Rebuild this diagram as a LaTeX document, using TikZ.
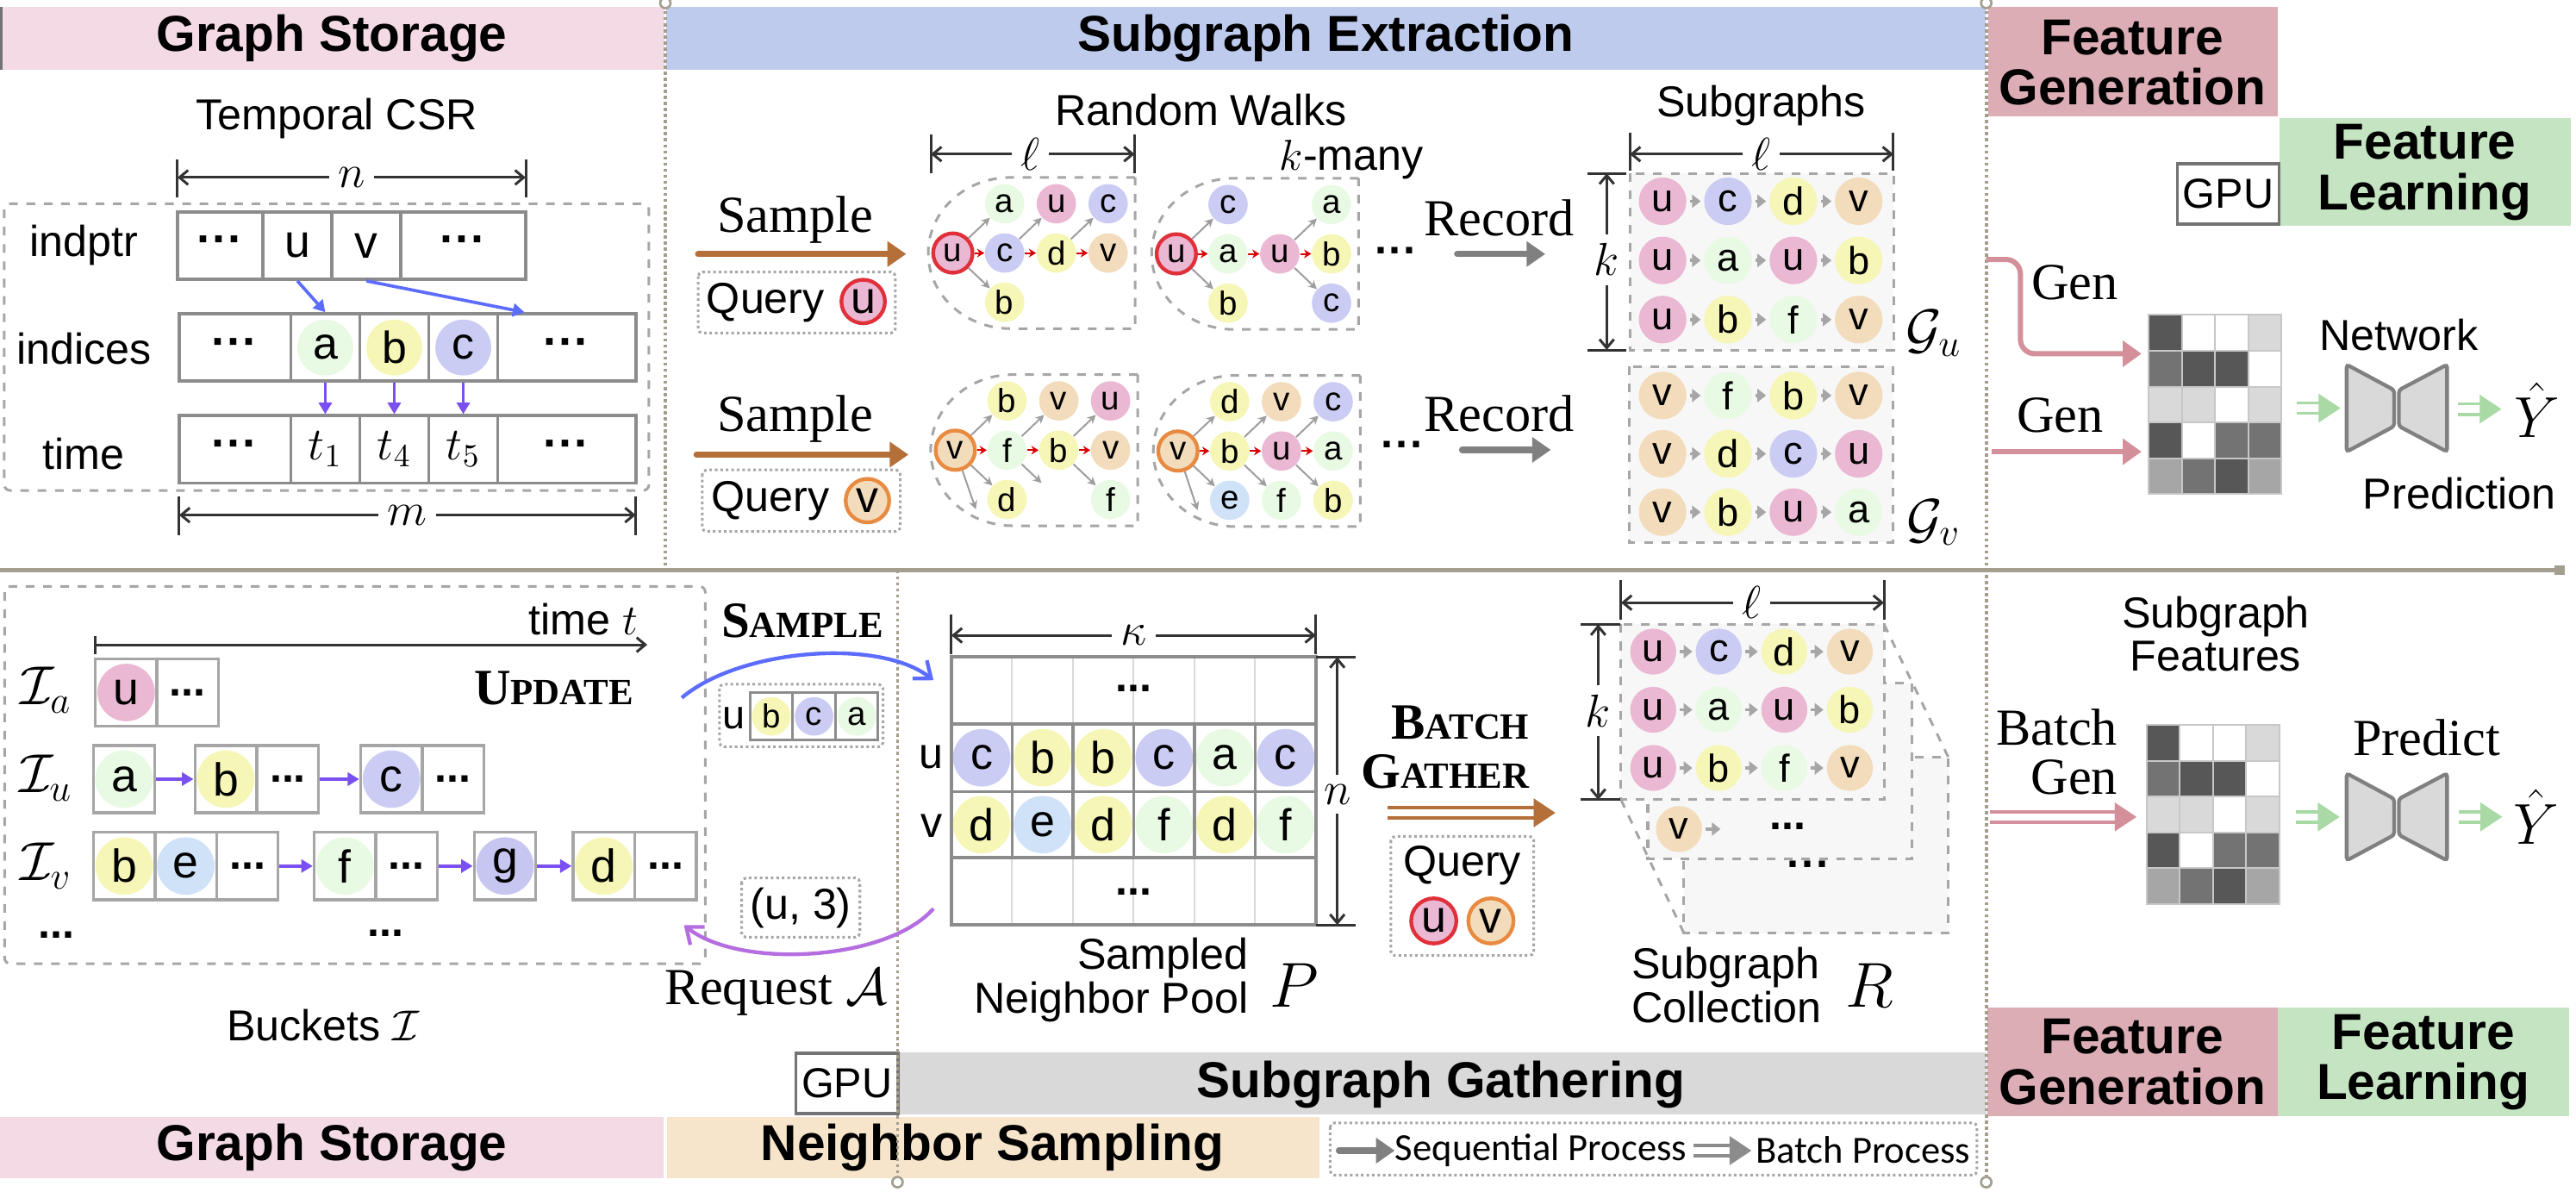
\RequirePackage{fix-cm}
\documentclass[tikz,border=0pt]{standalone}
\usepackage[no-math]{fontspec}
\setmainfont{Liberation Sans}
\newfontfamily\tnr{Liberation Serif}
\newfontfamily\legfont{Carlito}
\usetikzlibrary{arrows.meta,positioning,calc}

\definecolor{bandpink}{HTML}{F3DAE4}
\definecolor{bandblue}{HTML}{BFCBED}
\definecolor{bandrose}{HTML}{DCADB5}
\definecolor{bandgreen}{HTML}{C5E5C2}
\definecolor{bandtan}{HTML}{F6E5CB}
\definecolor{bandgray}{HTML}{D9D9D9}
\definecolor{colu}{HTML}{EBB8D3}
\definecolor{colc}{HTML}{CBCCF3}
\definecolor{colg}{HTML}{C6C6F0}
\definecolor{cola}{HTML}{E8FAE3}
\definecolor{colf}{HTML}{E8FAE3}
\definecolor{colb}{HTML}{F6F6B6}
\definecolor{cold}{HTML}{F6F6B6}
\definecolor{colv}{HTML}{F2DCBC}
\definecolor{cole}{HTML}{CFE2F8}
\definecolor{qred}{HTML}{E0303A}
\definecolor{qorange}{HTML}{E88A40}
\definecolor{brownarr}{HTML}{B5703A}
\definecolor{pinkarr}{HTML}{D4909A}
\definecolor{greenarr}{HTML}{A9D9A5}
\definecolor{bluearr}{HTML}{5B6CFF}
\definecolor{purparr}{HTML}{7B50F0}
\definecolor{reqarr}{HTML}{B46EE0}
\definecolor{sepline}{HTML}{A39E8E}
\definecolor{cellgray}{HTML}{8C8C8C}
\definecolor{boxgray}{HTML}{A6A6A6}
\definecolor{hmD}{HTML}{575757}
\definecolor{hmM}{HTML}{737373}
\definecolor{hmG}{HTML}{A6A6A6}
\definecolor{hmL}{HTML}{D9D9D9}
\definecolor{hmW}{HTML}{FFFFFF}

\newcommand{\hdrfont}{\fontsize{17.5}{17.5}\selectfont\bfseries}
\newcommand{\lblfont}{\fontsize{15}{15}\selectfont}
\newcommand{\serfont}{\tnr\fontsize{18}{17}\selectfont}
\newcommand{\bigdots}{\textbf{···}}
\newcommand{\smdots}{\textbf{...}}
\newcommand{\fakesc}[2]{{\tnr\bfseries\fontsize{17.6}{17}\selectfont #1\fontsize{12.8}{17}\selectfont #2}}

\begin{document}
\begin{tikzpicture}[x=0.02cm, y=-0.02cm,
  hdr/.style={font=\hdrfont, align=center, inner sep=0pt},
  lbl/.style={font=\lblfont, inner sep=1pt},
  ser/.style={font=\serfont, inner sep=1pt},
  mth/.style={font=\fontsize{16}{18}\selectfont, inner sep=3pt},
  gpu/.style={draw=black!55, line width=1.1pt, fill=white, font=\fontsize{14.5}{16}\selectfont, minimum width=1.24cm, minimum height=0.74cm, inner sep=0pt},
  cell/.style={draw=cellgray, line width=1.1pt, inner sep=0pt, minimum height=0.82cm, minimum width=#1, font=\fontsize{16}{18}\selectfont},
  bcell/.style={draw=boxgray, line width=1pt, inner sep=0pt, minimum height=0.82cm, minimum width=0.75cm, font=\fontsize{15}{17}\selectfont},
  bv/.style={circle, fill=col#1, inner sep=0pt, minimum size=0.68cm, font=\fontsize{15.5}{17}\selectfont},
  wv/.style={circle, fill=col#1, inner sep=0pt, minimum size=0.48cm, font=\fontsize{11.5}{13}\selectfont},
  sv/.style={circle, fill=col#1, inner sep=0pt, minimum size=0.58cm, font=\fontsize{13.5}{15}\selectfont},
  qu/.style={draw=qred, line width=1.3pt},
  qv/.style={draw=qorange, line width=1.3pt},
  dimarr/.style={-{Straight Barb[length=3pt,width=5pt]}, line width=0.9pt, draw=black!80},
  dimtick/.style={line width=0.9pt, draw=black!80},
  walkbox/.style={dashed, draw=boxgray, line width=0.9pt},
  sgbox/.style={dashed, draw=boxgray, line width=0.9pt, fill=black!3},
  qbox/.style={densely dotted, draw=boxgray, line width=0.9pt, rounded corners=1.5pt},
  warr/.style={-{Stealth[length=3pt,width=3pt]}, draw=black!38, line width=0.6pt},
  rarr/.style={-{Stealth[length=2.5pt,width=3pt]}, draw=red!85!black, line width=0.6pt},
  sarr/.style={-{Triangle[length=3pt,width=4.5pt]}, draw=boxgray, line width=1.1pt, shorten <=1pt, shorten >=1pt},
  brarr/.style={draw=brownarr, line width=2.2pt, line cap=round, -{Triangle[length=6.5pt,width=8.5pt]}},
  grarr/.style={draw=black!50, line width=2.2pt, line cap=round, -{Triangle[length=6.5pt,width=8.5pt]}},
  pkarr/.style={draw=pinkarr, line width=1.8pt, rounded corners=5pt, -{Triangle[length=6.5pt,width=8.8pt]}},
  blarr/.style={draw=bluearr, line width=1.1pt, -{Triangle[length=4pt,width=4.5pt]}},
  pparr/.style={draw=purparr, line width=1.1pt, -{Triangle[length=4pt,width=4.5pt]}},
  dbl/.style={draw=none,
    postaction={draw=#1, line width=1.1pt, shorten >=5pt, transform canvas={yshift=1.8pt}},
    postaction={draw=#1, line width=1.1pt, shorten >=5pt, transform canvas={yshift=-1.8pt}},
    postaction={draw=white, line width=0.05pt, -{Triangle[length=7.5pt,width=10pt,color=#1]}}},
  bowtie/.style={fill=bandgray, draw=black!50, line width=1.3pt, rounded corners=1pt},
  sep/.style={draw=sepline, densely dotted, line width=1.1pt}
]
\useasboundingbox (0,0) rectangle (1568,725);

% bands
\fill[bandpink] (0,4.4) rectangle (404.6,42.6);
\draw[black!55, line width=1.2pt] (0.6,4.4) -- (0.6,42.6);
\node[hdr] (hGS) at (202,23.5) {Graph Storage};
\fill[bandblue] (405.5,4.4) rectangle (1208.8,42.6);
\node[hdr] (hSE) at (807,23.5) {Subgraph Extraction};
\fill[bandrose] (1210,4.4) rectangle (1386.5,70.7);
\node[hdr] (hFG) at (1298,38) {Feature\\Generation};
\fill[bandgreen] (1387.6,71.8) rectangle (1565,137.3);
\node[hdr] (hFL) at (1476,105) {Feature\\Learning};
\node[gpu] (gpuA) at (1356.3,118) {GPU};

\fill[bandpink] (0,679.7) rectangle (404,717);
\node[hdr] (hGS2) at (202,698.5) {Graph Storage};
\fill[bandtan] (405.8,679.7) rectangle (803,717);
\node[hdr] (hNS) at (604,698.5) {Neighbor Sampling};
\fill[bandgray] (546.5,640.7) rectangle (1209,678.5);
\node[hdr] (hSG) at (877,660) {Subgraph Gathering};
\node[gpu] (gpuB) at (515.5,659.4) {GPU};
\fill[bandrose] (1209.7,613.4) rectangle (1386.5,679.2);
\node[hdr] (hFG2) at (1298,646.5) {Feature\\Generation};
\fill[bandgreen] (1386.5,613.4) rectangle (1563.8,679.2);
\node[hdr] (hFL2) at (1475,646.5) {Feature\\Learning};

% separators
\draw[sepline, line width=1.3pt] (0,347) -- (1557,347);
\fill[sepline] (1555,344) rectangle (1561,350);
\draw[sep] (405,3) -- (405,347);
\draw[sep] (546.3,347) -- (546.3,717);
\draw[sep] (1209,3) -- (1209,717);
\foreach \px/\py in {405/1.8, 1209/1.8, 546.3/719.5, 1209/719.5}
  \draw[sepline, line width=0.8pt, fill=white] (\px,\py) circle (1.8pt);

% temporal CSR
\node[lbl] (tcsr) at (205,72) {Temporal CSR};
\draw[dashed, draw=boxgray, line width=0.9pt, rounded corners=2pt] (2.6,124) rectangle (395,298.5);
\node[lbl] (lip) at (51,149) {indptr};
\node[lbl] (lix) at (51,212) {indices};
\node[lbl] (ltm) at (51,276) {time};
\foreach \n/\cx/\w/\t in {1/134/1.04cm/\bigdots, 2/181/0.84cm/u, 3/223/0.84cm/v, 4/282/1.52cm/\bigdots}
  \node[cell=\w] (ip\n) at (\cx,149.5) {\t};
\foreach \n/\cx/\w/\t in {1/143/1.36cm/\bigdots, 2/198/0.84cm/{}, 3/240/0.84cm/{}, 4/282/0.84cm/{}, 5/345/1.68cm/\bigdots}
  \node[cell=\w] (ix\n) at (\cx,211.5) {\t};
\foreach \n/\lt in {2/a, 3/b, 4/c}
  \node[bv=\lt] (ixc\n) at (ix\n) {\lt};
\foreach \n/\cx/\w/\t in {1/143/1.36cm/\bigdots, 2/198/0.84cm/$t_1$, 3/240/0.84cm/$t_4$, 4/282/0.84cm/$t_5$, 5/345/1.68cm/\bigdots}
  \node[cell=\w] (tm\n) at (\cx,273.5) {\t};
\draw[blarr] (ip2.south) -- (ix2.north);
\draw[blarr] (ip3.south) -- ($(ix5.north west)!0.2!(ix5.north east)$);
\foreach \n in {2,3,4}
  \draw[pparr] (ix\n.south) -- (tm\n.north);

\node[mth] (dimN) at (214,108) {$n$};
\coordinate (dimN0) at (108,108); \coordinate (dimN1) at (320,108);
\draw[dimarr] (dimN) -- (dimN0); \draw[dimarr] (dimN) -- (dimN1);
\draw[dimtick] (108,97) -- (108,120) (320,97) -- (320,120);
\node[mth] (dimM) at (248,313.5) {$m$};
\coordinate (dimM0) at (109,313.5); \coordinate (dimM1) at (387,313.5);
\draw[dimarr] (dimM) -- (dimM0); \draw[dimarr] (dimM) -- (dimM1);
\draw[dimtick] (109,302) -- (109,325.6) (387,302) -- (387,325.6);

% random walks
\node[ser] (smpU) at (484,134) {Sample};
\coordinate (smpU0) at (425,154.6); \coordinate (smpU1) at (551.6,154.6);
\draw[brarr] (smpU0) -- (smpU1);
\draw[qbox] (425,165.6) rectangle (545,202.7);
\node[lbl] (qryU) at (466,184) {Query};
\node[bv=u, qu, minimum size=0.53cm] (qU) at (525.4,183.5) {u};
\node[ser] (smpV) at (484,255) {Sample};
\coordinate (smpV0) at (424,276.7); \coordinate (smpV1) at (553,276.7);
\draw[brarr] (smpV0) -- (smpV1);
\draw[qbox] (427.5,286) rectangle (548,323.5);
\node[lbl] (qryV) at (469,305) {Query};
\node[bv=v, qv, minimum size=0.53cm] (qV) at (528,304.7) {v};

\node[lbl] (rwT) at (731,67) {Random Walks};
\node[lbl] (kmany) at (822.7,97) {$k$-many};
\node[mth] (dimL1) at (627,93.8) {$\ell$};
\coordinate (dimL10) at (566.6,93.8); \coordinate (dimL11) at (690.7,93.8);
\draw[dimarr] (dimL1) -- (dimL10); \draw[dimarr] (dimL1) -- (dimL11);
\draw[dimtick] (566.6,81.7) -- (566.6,105.5) (690.7,81.7) -- (690.7,105.5);

\foreach \ox/\oy in {565/108, 701/108.5, 566.5/228, 702/228.5}
  \draw[walkbox] (\ox+126,\oy) -- (\ox+50,\oy) arc[start angle=-90, end angle=-270, x radius=50, y radius=46] -- (\ox+126,\oy+92) -- cycle;

\foreach \row/\col/\lt in {2/2/c, 2/3/d, 2/4/v, 1/2/a, 1/3/u, 1/4/c, 3/2/b}
  \node[wv=\lt] (w1-\row\col) at (565+31.5*\col-16.5, 108+30*\row-14) {\lt};
\node[wv=u, qu] (w1-21) at (580,154) {u};
\foreach \p/\q in {21/12, 21/32, 22/13, 23/14} \draw[warr] (w1-\p) -- (w1-\q);
\foreach \p/\q in {21/22, 22/23, 23/24} \draw[rarr] (w1-\p) -- (w1-\q);

\foreach \row/\col/\lt in {2/2/a, 2/3/u, 2/4/b, 1/2/c, 3/2/b, 1/4/a, 3/4/c}
  \node[wv=\lt] (w2-\row\col) at (701+31.5*\col-16.5, 108.5+30*\row-14) {\lt};
\node[wv=u, qu] (w2-21) at (716,154.5) {u};
\foreach \p/\q in {21/12, 21/32, 23/14, 23/34} \draw[warr] (w2-\p) -- (w2-\q);
\foreach \p/\q in {21/22, 22/23, 23/24} \draw[rarr] (w2-\p) -- (w2-\q);

\foreach \row/\col/\lt in {2/2/f, 2/3/b, 2/4/v, 1/2/b, 1/3/v, 1/4/u, 3/2/d, 3/4/f}
  \node[wv=\lt] (w3-\row\col) at (566.5+31.5*\col-16.5, 228+30*\row-14) {\lt};
\node[wv=v, qv] (w3-21) at (581.5,274) {v};
\coordinate (w3-x1) at (594,310); \coordinate (w3-x2) at (634,294);
\foreach \p/\q in {21/12, 21/32, 22/13, 23/14, 23/34} \draw[warr] (w3-\p) -- (w3-\q);
\draw[warr] (w3-21) -- (w3-x1); \draw[warr] (w3-22) -- (w3-x2);
\foreach \p/\q in {21/22, 22/23, 23/24} \draw[rarr] (w3-\p) -- (w3-\q);

\foreach \row/\col/\lt in {2/2/b, 2/3/u, 2/4/a, 1/2/d, 1/3/v, 1/4/c, 3/2/e, 3/3/f, 3/4/b}
  \node[wv=\lt] (w4-\row\col) at (702+31.5*\col-16.5, 228.5+30*\row-14) {\lt};
\node[wv=v, qv] (w4-21) at (717,274.5) {v};
\coordinate (w4-x1) at (729,310.5);
\foreach \p/\q in {21/12, 21/32, 22/13, 22/33, 23/14, 23/34} \draw[warr] (w4-\p) -- (w4-\q);
\draw[warr] (w4-21) -- (w4-x1);
\foreach \p/\q in {21/22, 22/23, 23/24} \draw[rarr] (w4-\p) -- (w4-\q);

\node[lbl] (wdU) at (850,156) {\bigdots};
\node[lbl] (wdV) at (854,274) {\bigdots};

% subgraphs
\node[ser] (recU) at (912.5,132.5) {Record};
\coordinate (recU0) at (887,154.6); \coordinate (recU1) at (940.6,154.6);
\draw[grarr] (recU0) -- (recU1);
\node[ser] (recV) at (912.5,251.7) {Record};
\coordinate (recV0) at (890,273.8); \coordinate (recV1) at (944,273.8);
\draw[grarr] (recV0) -- (recV1);

\node[lbl] (sgT) at (1072,64) {Subgraphs};
\node[mth] (dimL2) at (1072,93.8) {$\ell$};
\coordinate (dimL20) at (992,93.8); \coordinate (dimL21) at (1152.5,93.8);
\draw[dimarr] (dimL2) -- (dimL20); \draw[dimarr] (dimL2) -- (dimL21);
\draw[dimtick] (992,80.6) -- (992,104) (1152.5,80.6) -- (1152.5,104);
\node[mth] (dimK1) at (978,158) {$k$};
\coordinate (dimK10) at (978,105.5); \coordinate (dimK11) at (978,213);
\draw[dimarr] (dimK1) -- (dimK10); \draw[dimarr] (dimK1) -- (dimK11);
\draw[dimtick] (966.4,105.5) -- (989.8,105.5) (966.4,213) -- (989.8,213);

\draw[sgbox] (992,105.5) rectangle (1152.6,213);
\draw[sgbox] (991.7,223) rectangle (1152,330);
\foreach \row/\lts in {1/{u,c,d,v}, 2/{u,a,u,b}, 3/{u,b,f,v}} {
  \foreach \lt [count=\col] in \lts
    \node[sv=\lt] (gu-\row\col) at (1012+39.8*\col-39.8, 122.5+36*\row-36) {\lt};
  \foreach \p/\q in {1/2, 2/3, 3/4}
    \draw[sarr] (gu-\row\p) -- (gu-\row\q);
}
\foreach \row/\lts in {1/{v,f,b,v}, 2/{v,d,c,u}, 3/{v,b,u,a}} {
  \foreach \lt [count=\col] in \lts
    \node[sv=\lt] (gv-\row\col) at (1012+39.8*\col-39.8, 240.7+35.5*\row-35.5) {\lt};
  \foreach \p/\q in {1/2, 2/3, 3/4}
    \draw[sarr] (gv-\row\p) -- (gv-\row\q);
}
\node[mth, font=\fontsize{19}{20}\selectfont] (gUl) at (1177,203) {$\mathcal{G}_u$};
\node[mth, font=\fontsize{19}{20}\selectfont] (gVl) at (1177,318) {$\mathcal{G}_v$};

% feature generation / learning
\coordinate (genA0) at (1209,157.9); \coordinate (genA1) at (1303.5,215.3);
\draw[pkarr] (genA0) -- ++(20.8,0) |- (genA1);
\coordinate (genB0) at (1212.5,274.9); \coordinate (genB1) at (1303.5,274.9);
\draw[pkarr] (genB0) -- (genB1);
\node[ser] (genAl) at (1263,172) {Gen};
\node[ser] (genBl) at (1254,253) {Gen};

\foreach \ox/\oy in {1308/191.7, 1306.5/441.3}
  \foreach \hrow [count=\j] in {{D,W,W,L},{M,D,D,W},{L,L,W,L},{D,W,M,M},{G,M,D,G}}
    \foreach \hc [count=\i] in \hrow
      \filldraw[fill=hm\hc, draw=black!22, line width=0.6pt] (\ox+20.2*\i-20.2, \oy+21.8*\j-21.8) rectangle ++(20.2,21.8);

\foreach \oy in {0, 248.8} {
  \begin{scope}[shift={(0,\oy)}]
    \draw[bowtie] (1428.4,221.9) -- (1457.3,237.4) -- (1457.3,259.4) -- (1428.4,274.9) -- cycle;
    \draw[bowtie] (1489.5,221.9) -- (1460.2,237.4) -- (1460.2,259.4) -- (1489.5,274.9) -- cycle;
  \end{scope}
}
\coordinate (gA0) at (1398,248.4); \coordinate (gA1) at (1424.5,248.4);
\coordinate (gA2) at (1496,249); \coordinate (gA3) at (1522.5,249);
\draw[dbl=greenarr] (gA0) -- (gA1); \draw[dbl=greenarr] (gA2) -- (gA3);
\coordinate (gB0) at (1397.6,497.2); \coordinate (gB1) at (1424,497.2);
\coordinate (gB2) at (1496.5,497.2); \coordinate (gB3) at (1523,497.2);
\draw[dbl=greenarr] (gB0) -- (gB1); \draw[dbl=greenarr] (gB2) -- (gB3);
\node[lbl] (netw) at (1460,204) {Network};
\node[lbl] (pred) at (1497,300.3) {Prediction};
\node[mth, font=\fontsize{20}{22}\selectfont] (yA) at (1544.4,249.5) {$\hat{Y}$};
\node[mth, font=\fontsize{20}{22}\selectfont] (yB) at (1544,497) {$\hat{Y}$};
\node[lbl, align=center] (sgF) at (1348.7,386) {Subgraph\\Features};
\node[ser, align=right, anchor=east] (bgen) at (1291,457.5) {Batch\\Gen};
\coordinate (bgA0) at (1211.4,497.2); \coordinate (bgA1) at (1300.4,497.2);
\draw[dbl=pinkarr] (bgA0) -- (bgA1);
\node[ser] (predB) at (1477,448.8) {Predict};

% buckets
\draw[dashed, draw=boxgray, line width=0.9pt, rounded corners=2pt] (2.8,356.9) rectangle (429.3,586.6);
\node[lbl] (timeT) at (355,377) {time $t$};
\coordinate (tax0) at (58,392.4); \coordinate (tax1) at (394,392.4);
\draw[dimarr] (tax0) -- (tax1);
\draw[dimtick] (58,387) -- (58,398);
\node (upd) at (337,419) {\fakesc{U}{PDATE}};
\node[mth, font=\fontsize{19}{20}\selectfont] (Ia) at (28,420) {$\mathcal{I}_a$};
\node[mth, font=\fontsize{19}{20}\selectfont] (Iu) at (28,473.6) {$\mathcal{I}_u$};
\node[mth, font=\fontsize{19}{20}\selectfont] (Iv) at (28,527) {$\mathcal{I}_v$};
\foreach \n/\cx/\t in {1/76.8/{}, 2/114.2/\smdots}
  \node[bcell] (ia\n) at (\cx,421.5) {\t};
\node[bv=u, minimum size=0.7cm, font=\fontsize{16}{18}\selectfont] (iac1) at (ia1) {u};
\foreach \n/\cx/\t in {1/75.5/{}, 2/137.4/{}, 3/175.2/\smdots, 4/238.3/{}, 5/275.7/\smdots}
  \node[bcell] (iu\n) at (\cx,474.2) {\t};
\foreach \n/\lt in {1/a, 2/b, 4/c}
  \node[bv=\lt, minimum size=0.7cm, font=\fontsize{16}{18}\selectfont] (iuc\n) at (iu\n) {\lt};
\foreach \n/\cx/\t in {1/75.6/{}, 2/113.1/{}, 3/150.6/\smdots, 4/210/{}, 5/247.5/\smdots, 6/307.4/{}, 7/367.6/{}, 8/405.1/\smdots}
  \node[bcell] (iv\n) at (\cx,527.1) {\t};
\foreach \n/\lt in {1/b, 2/e, 4/f, 6/g, 7/d}
  \node[bv=\lt, minimum size=0.7cm, font=\fontsize{16}{18}\selectfont] (ivc\n) at (iv\n) {\lt};
\draw[pparr] (iu1.east) -- (iu2.west);
\draw[pparr] (iu3.east) -- (iu4.west);
\draw[pparr] (iv3.east) -- (iv4.west);
\draw[pparr] (iv5.east) -- (iv6.west);
\draw[pparr] (iv6.east) -- (iv7.west);
\node[lbl] (bdA) at (34.4,569) {\smdots};
\node[lbl] (bdB) at (234.7,568) {\smdots};
\node[lbl] (bkt) at (196.7,623.8) {Buckets $\mathcal{I}$};

% sample / request
\node (smpl) at (488.3,378) {\fakesc{S}{AMPLE}};
\draw[qbox] (438,416.5) rectangle (537.5,454.5);
\node[lbl, font=\fontsize{14}{15}\selectfont] (smu) at (446.5,437) {u};
\foreach \n/\cx/\lt in {1/469.5/b, 2/495.5/c, 3/521.5/a} {
  \node[draw=cellgray, line width=0.9pt, minimum width=0.52cm, minimum height=0.58cm, inner sep=0pt] (sm\n) at (\cx,436) {};
  \node[bv=\lt, minimum size=0.47cm, font=\fontsize{11.5}{13}\selectfont] (smc\n) at (sm\n) {\lt};
}
\coordinate (sa0) at (415,424.7); \coordinate (sa1) at (568.2,414);
\draw[bluearr, line width=1.3pt, -{Straight Barb[length=5pt,width=8pt]}] (sa0) .. controls (450,395) and (535,388) .. (sa1);
\draw[qbox] (451.4,534.4) rectangle (523.4,570.4);
\node[lbl] (req3) at (487.4,552.4) {(u, 3)};
\coordinate (ra0) at (568.2,553); \coordinate (ra1) at (416.3,563);
\draw[reqarr, line width=1.3pt, -{Straight Barb[length=5pt,width=8pt]}] (ra0) .. controls (540,585) and (450,590) .. (ra1);
\node[ser] (reqA) at (472.5,604) {Request $\mathcal{A}$};

% neighbor pool
\foreach \x in {616.1, 653, 690, 727, 764} {
  \draw[black!15, line width=0.6pt] (\x,399.9) -- (\x,440.6);
  \draw[black!15, line width=0.6pt] (\x,522) -- (\x,563);
}
\draw[cellgray, line width=1.1pt] (579.1,399.9) rectangle (801,563);
\foreach \lt [count=\i] in {c,b,b,c,a,c} {
  \node[draw=cellgray, line width=1.1pt, minimum width=0.74cm, minimum height=0.824cm, inner sep=0pt] (pu\i) at (579.1+37*\i-18.5,461.2) {};
  \node[bv=\lt, minimum size=0.7cm] (puc\i) at (pu\i) {\lt};
}
\foreach \lt [count=\i] in {d,e,d,f,d,f} {
  \node[draw=cellgray, line width=1.1pt, minimum width=0.74cm, minimum height=0.804cm, inner sep=0pt] (pv\i) at (579.1+37*\i-18.5,501.9) {};
  \node[bv=\lt, minimum size=0.7cm] (pvc\i) at (pv\i) {\lt};
}
\node[lbl] (plu) at (567,461) {u};
\node[lbl] (plv) at (567,502.7) {v};
\node[lbl] (pdA) at (690,419) {\smdots};
\node[lbl] (pdB) at (690,543) {\smdots};
\node[mth] (dimKa) at (690,386.7) {$\kappa$};
\coordinate (dimKa0) at (579.1,386.7); \coordinate (dimKa1) at (801,386.7);
\draw[dimarr] (dimKa) -- (dimKa0); \draw[dimarr] (dimKa) -- (dimKa1);
\draw[dimtick] (579.1,374) -- (579.1,398) (801,374) -- (801,398);
\node[mth] (dimN2) at (814,483.5) {$n$};
\coordinate (dimN20) at (814,399.9); \coordinate (dimN21) at (814,563);
\draw[dimarr] (dimN2) -- (dimN20); \draw[dimarr] (dimN2) -- (dimN21);
\draw[dimtick] (801,399.9) -- (825,399.9) (801,563) -- (825,563);
\node[lbl, align=right, anchor=east] (pool) at (762,596.5) {Sampled\\Neighbor Pool};
\node[mth, font=\fontsize{22}{24}\selectfont] (Pl) at (788,600) {$P$};

% batch gather
\node[align=right, anchor=east, font=\tnr\fontsize{17.6}{17}\selectfont] (bgth) at (937,455) {\fakesc{B}{ATCH}\\\fakesc{G}{ATHER}};
\coordinate (bg0) at (844.4,494.7); \coordinate (bg1) at (946.7,494.7);
\draw[dbl=brownarr] (bg0) -- (bg1);
\draw[qbox] (846.6,509) rectangle (933.6,581.6);
\node[lbl] (qry2) at (890,527) {Query};
\node[bv=u, qu, minimum size=0.55cm] (q2u) at (872.7,560.5) {u};
\node[bv=v, qv, minimum size=0.55cm] (q2v) at (907.5,560.5) {v};

% subgraph collection
\draw[sgbox] (1025,461) rectangle (1186,568);
\draw[sgbox] (1003,415.8) rectangle (1164,522.5);
\draw[sgbox] (986.7,380) rectangle (1146.8,486.8);
\draw[dashed, draw=boxgray, line width=0.9pt] (1146.8,380) -- (1186,461) (986.7,486.8) -- (1025,568);
\foreach \row/\lts in {1/{u,c,d,v}, 2/{u,a,u,b}, 3/{u,b,f,v}} {
  \foreach \lt [count=\col] in \lts
    \node[sv=\lt, minimum size=0.56cm] (gr-\row\col) at (1006.3+39.9*\col-39.9, 396.6+35.4*\row-35.4) {\lt};
  \foreach \p/\q in {1/2, 2/3, 3/4}
    \draw[sarr] (gr-\row\p) -- (gr-\row\q);
}
\node[sv=v, minimum size=0.56cm] (gr2v) at (1022,504.6) {v};
\coordinate (gr2x) at (1049,504.6);
\draw[sarr] (gr2v) -- (gr2x);
\node[lbl] (gr2d) at (1088,503) {\smdots};
\node[lbl] (gr3d) at (1101,529.5) {\bigdots};
\node[mth] (dimL3) at (1066.3,366.8) {$\ell$};
\coordinate (dimL30) at (986.7,366.8); \coordinate (dimL31) at (1146.8,366.8);
\draw[dimarr] (dimL3) -- (dimL30); \draw[dimarr] (dimL3) -- (dimL31);
\draw[dimtick] (986.7,353) -- (986.7,377) (1146.8,353) -- (1146.8,377);
\node[mth] (dimK2) at (972.8,432.6) {$k$};
\coordinate (dimK20) at (972.8,380); \coordinate (dimK21) at (972.8,486.8);
\draw[dimarr] (dimK2) -- (dimK20); \draw[dimarr] (dimK2) -- (dimK21);
\draw[dimtick] (962,380) -- (986,380) (962,486.8) -- (986,486.8);
\node[lbl, align=left] (coll) at (1051,599.6) {Subgraph\\Collection};
\node[mth, font=\fontsize{22}{24}\selectfont] (Rl) at (1138,600) {$R$};

% legend
\draw[qbox] (809.6,683.4) rectangle (1203.3,715.2);
\coordinate (lg0) at (815,700.3); \coordinate (lg1) at (849,700.3);
\draw[grarr] (lg0) -- (lg1);
\node[font=\legfont\fontsize{13.3}{15}\selectfont, inner sep=0pt] (lgS) at (938,700) {Sequential Process};
\coordinate (lg2) at (1031,700.3); \coordinate (lg3) at (1066,700.3);
\draw[dbl=black!45] (lg2) -- (lg3);
\node[font=\legfont\fontsize{13.3}{15}\selectfont, inner sep=0pt] (lgB) at (1134,700) {Batch Process};
\end{tikzpicture}
\end{document}
